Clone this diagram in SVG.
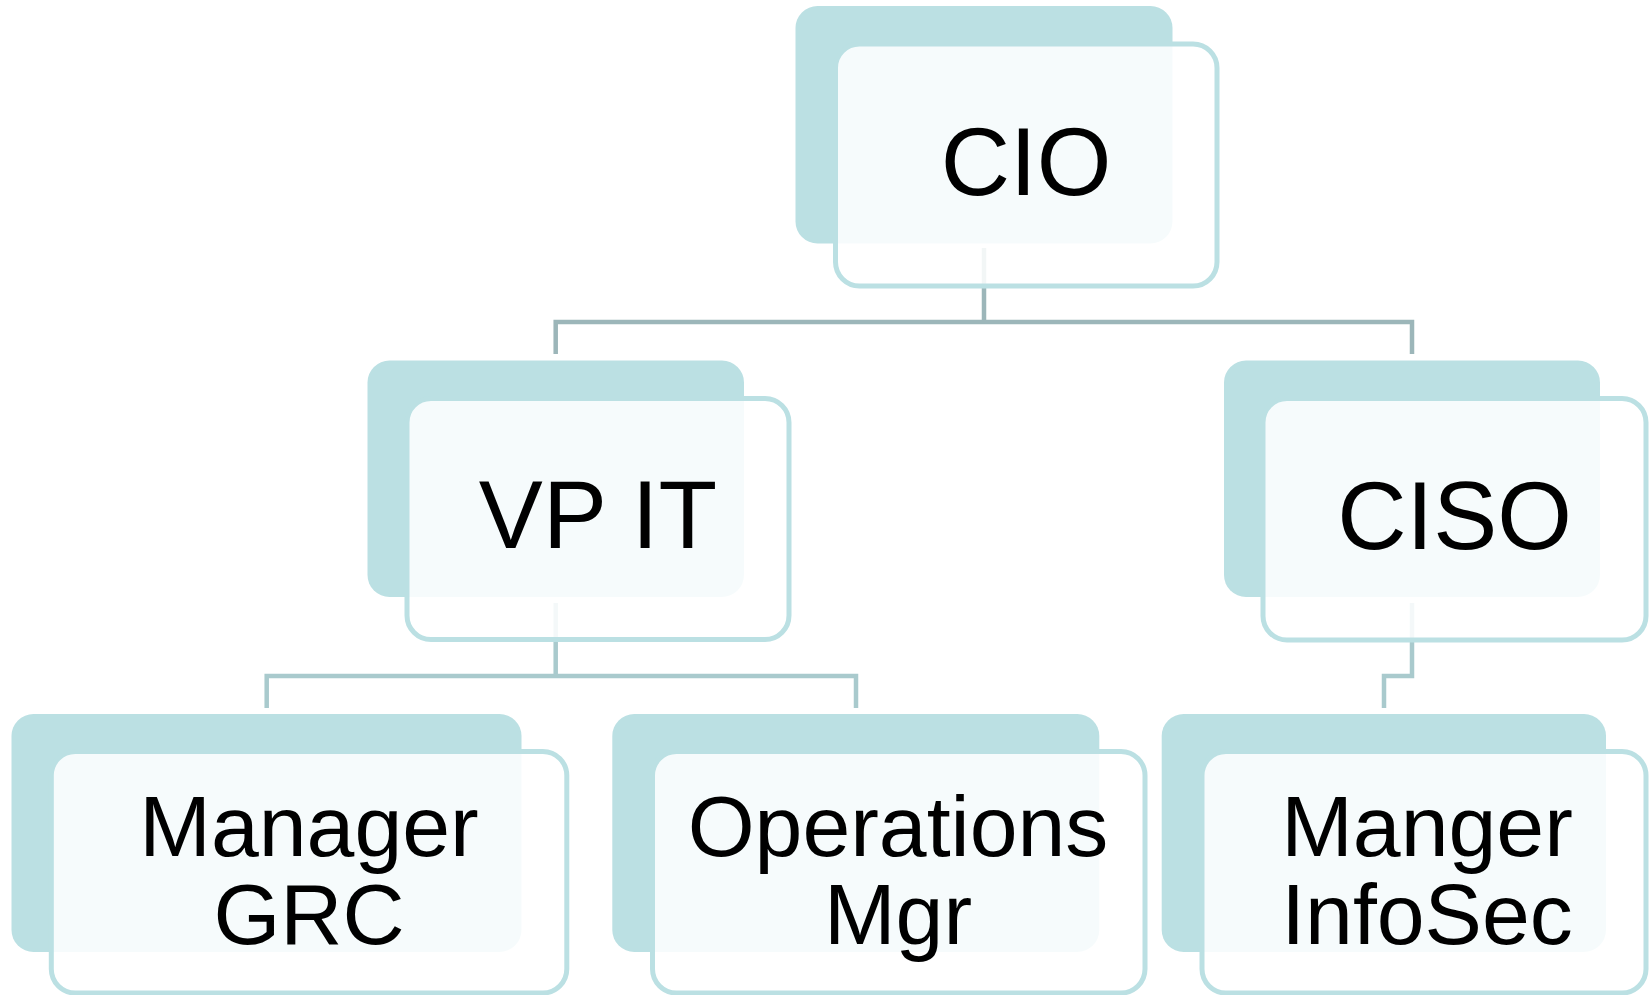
<svg xmlns="http://www.w3.org/2000/svg" width="1650" height="995" viewBox="0 0 1650 995">
<style>
.back{fill:#BBE0E3;}
.front{fill:#FFFFFF;fill-opacity:0.87;stroke:#BBE0E3;stroke-width:5;}
.c1{fill:none;stroke:#9CB6B9;stroke-width:4.5;}
.c2{fill:none;stroke:#A9CACD;stroke-width:4.5;}
.t1{font-family:"Liberation Sans",Arial,sans-serif;font-size:96px;fill:#000;text-anchor:middle;}
.t2{font-family:"Liberation Sans",Arial,sans-serif;font-size:86px;fill:#000;text-anchor:middle;}
</style>
<rect width="1650" height="995" fill="#FFFFFF"/>
<g id="connectors">
<path class="c1" d="M984,248 V322 M555.7,354 V322 H1412 V354"/>
<path class="c2" d="M555.7,603 V676 M266.7,708 V676 H856 V708"/>
<path class="c2" d="M1412,603 V676 H1384 V708"/>
</g>
<g id="node-cio">
<rect class="back" x="795.5" y="6" width="377" height="237.5" rx="22"/>
<rect class="front" x="835.5" y="44" width="381.5" height="242" rx="24"/>
<text class="t1" x="1026" y="195">CIO</text>
</g>
<g id="node-vpit">
<rect class="back" x="367.5" y="360.5" width="376.5" height="236.5" rx="22"/>
<rect class="front" x="407" y="398.5" width="382" height="241" rx="24"/>
<text class="t1" x="598" y="548">VP IT</text>
</g>
<g id="node-ciso">
<rect class="back" x="1224" y="360.5" width="376" height="236.5" rx="22"/>
<rect class="front" x="1263" y="398.5" width="383" height="241.5" rx="24"/>
<text class="t1" x="1454.5" y="549">CISO</text>
</g>
<g id="node-grc">
<rect class="back" x="11.5" y="714" width="510" height="238" rx="22"/>
<rect class="front" x="51.3" y="751.5" width="515.5" height="241.5" rx="24"/>
<text class="t2" x="309" y="855.5">Manager</text>
<text class="t2" x="309" y="944">GRC</text>
</g>
<g id="node-ops">
<rect class="back" x="612.3" y="714" width="487" height="238" rx="22"/>
<rect class="front" x="652.5" y="751.5" width="492.5" height="241.5" rx="24"/>
<text class="t2" x="898" y="855.5">Operations</text>
<text class="t2" x="898" y="944">Mgr</text>
</g>
<g id="node-infosec">
<rect class="back" x="1161.7" y="714" width="444.3" height="238" rx="22"/>
<rect class="front" x="1202" y="751.5" width="444" height="241.5" rx="24"/>
<text class="t2" x="1427" y="855.5">Manger</text>
<text class="t2" x="1427" y="944">InfoSec</text>
</g>
</svg>
